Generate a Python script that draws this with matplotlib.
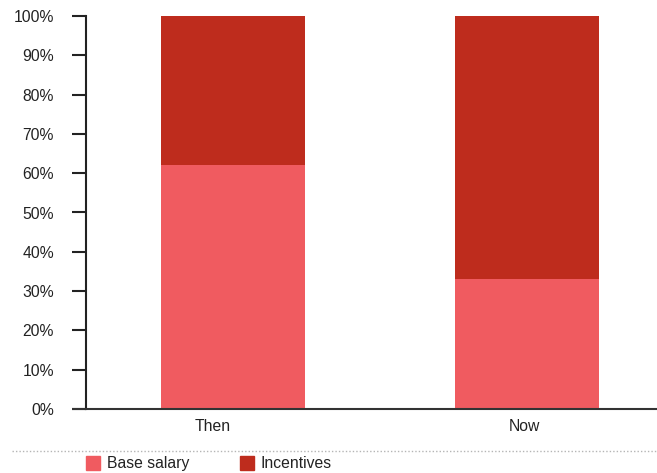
import matplotlib.pyplot as plt
import matplotlib.transforms as mtransforms
from matplotlib.patches import Rectangle
from matplotlib.lines import Line2D

plt.rcParams['font.family'] = ['Liberation Sans', 'DejaVu Sans']

# Pay mix, share of total compensation (%)
periods = ['Then', 'Now']
base_salary = [62, 33]
incentives = [38, 67]
series_names = ['Base salary', 'Incentives']
colors = ['#F05B60', '#BE2C1D']

fig = plt.figure(figsize=(6.57, 4.73), dpi=100)
ax = fig.add_axes([86 / 657, 1 - 409 / 473, 1 - 86 / 657, (409 - 16) / 473])

x = range(len(periods))
ax.bar(x, base_salary, width=0.49, color=colors[0], linewidth=0)
ax.bar(x, incentives, width=0.49, bottom=base_salary, color=colors[1], linewidth=0)

ax.set_xlim(-0.5, 1.442)
ax.set_ylim(0, 100)
ax.set_yticks(range(0, 101, 10))
ax.set_yticklabels([f'{v}%' for v in range(0, 101, 10)])
ax.set_xticks(list(x))
ax.set_xticklabels(periods)

for side in ['top', 'right']:
    ax.spines[side].set_visible(False)
ax.spines['left'].set_linewidth(1.5)
ax.spines['bottom'].set_linewidth(1.5)
ax.spines['left'].set_color('#222222')
ax.spines['bottom'].set_color('#333333')
ax.tick_params(axis='y', length=10, width=1.5, color='#222222', pad=13,
               labelsize=11.3, labelcolor='#222222')
ax.tick_params(axis='x', length=0, pad=7, labelsize=11.3, labelcolor='#222222')

# category labels sit a little left of the bar centres
for label, dx in zip(ax.get_xticklabels(), [-20, -3]):
    label.set_transform(label.get_transform()
                        + mtransforms.ScaledTranslation(dx / 100, 0, fig.dpi_scale_trans))

# extend the baseline left to meet the 0% tick
ax.plot([-0.5 - 14 / 294, -0.5], [0, 0], color='#333333', lw=1.5,
        clip_on=False, solid_capstyle='butt')

# dotted separator above the legend
fig.add_artist(Line2D([12 / 657, 1], [1 - 451 / 473] * 2, color='#b5b5b5',
                      lw=1, ls=(0, (1, 1.5))))

# legend row
legend_y = 1 - 463 / 473
for name, color, px in zip(series_names, colors, [86, 240]):
    fig.add_artist(Rectangle((px / 657, legend_y - 7 / 473), 14 / 657, 14 / 473,
                             color=color, transform=fig.transFigure))
    fig.text((px + 21) / 657, legend_y, name, fontsize=11.3, va='center',
             ha='left', color='#222222')

fig.savefig('out.png', dpi=100)
